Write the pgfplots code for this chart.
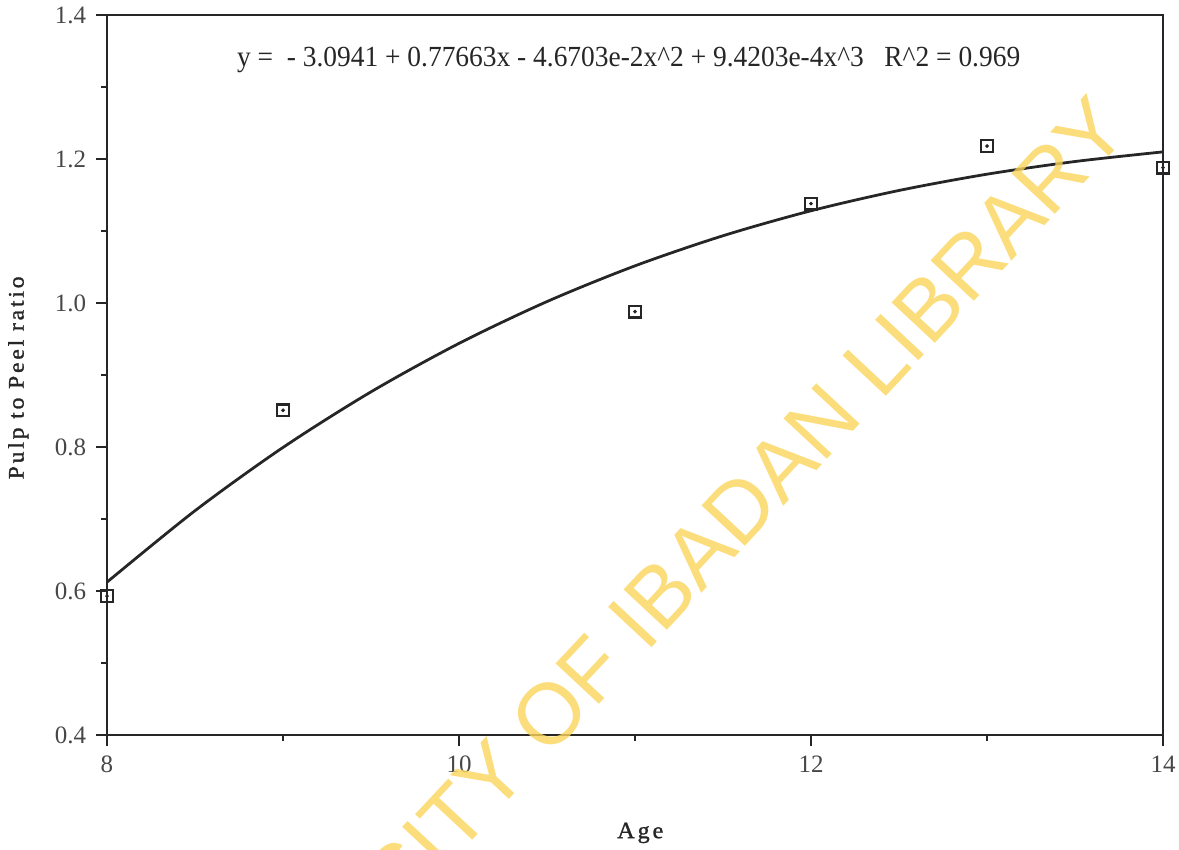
\documentclass[border=0pt]{standalone}
\usepackage{pgfplots}
\pgfplotsset{compat=1.18}
\usepackage{fontspec}
\setmainfont{Liberation Serif}
\newfontfamily\wmfont{Liberation Sans}
\newfontfamily\labfont{Liberation Serif}[LetterSpace=12, FakeBold=1.2]
\usepackage{graphicx}
\definecolor{ink}{RGB}{38,38,38}
\definecolor{wm}{RGB}{250,212,90}

\begin{document}
\begin{tikzpicture}[x=1pt,y=1pt]
\useasboundingbox (0,0) rectangle (424.44,305.64);
\begin{axis}[
  at={(38.52pt,41.04pt)}, anchor=south west,
  scale only axis, width=380.16pt, height=259.2pt,
  xmin=8, xmax=14, ymin=0.4, ymax=1.4,
  xtick={8,10,12,14}, xticklabels={8,10,12,14},
  ytick={0.4,0.6,0.8,1.0,1.2,1.4}, yticklabels={0.4,0.6,0.8,1.0,1.2,1.4},
  minor tick num=1,
  tick pos=left,
  tick align=outside,
  major tick length=4pt, minor tick length=2.2pt,
  axis line style={ink, line width=0.9pt},
  every tick/.style={ink, line width=0.8pt},
  /pgf/number format/assume math mode=true,
  ticklabel style={font=\fontsize{9}{10}\selectfont, text=ink!85},
  xlabel={\resizebox{16.6pt}{\height}{\labfont\fontsize{8.4}{9}\selectfont Age}},
  ylabel={\resizebox{73pt}{\height}{\labfont\fontsize{8}{9}\selectfont Pulp to Peel ratio}},
  xlabel style={at={(axis description cs:0.505,-0.136)}, anchor=center, text=ink},
  ylabel style={at={(axis description cs:-0.084,0.496)}, anchor=center, text=ink},
  clip=false,
]
\addplot[ink, line width=1pt, smooth] coordinates {
  (8,0.6123) (8.5,0.7115) (9,0.7994) (9.5,0.8766) (10,0.9439)
  (10.5,1.0020) (11,1.0516) (11.5,1.0934) (12,1.1281) (12.5,1.1563)
  (13,1.1789) (13.5,1.1965) (14,1.2099)
};
\addplot[only marks, mark=square, mark size=2.1pt, mark options={ink, line width=0.8pt, fill=white}] coordinates {
  (8,0.593) (9,0.851) (11,0.988) (12,1.138) (13,1.218) (14,1.188)
};
\addplot[only marks, mark=*, mark size=0.45pt, mark options={ink}] coordinates {
  (8,0.593) (9,0.851) (11,0.988) (12,1.138) (13,1.218) (14,1.188)
};
\node[text=ink, inner sep=0] at (axis description cs:0.494,0.9375)
  {\resizebox{281.9pt}{\height}{\fontsize{10.5}{12}\selectfont y =\ \ - 3.0941 + 0.77663x - 4.6703e-2x\^{}2 + 9.4203e-4x\^{}3\ \ \ R\^{}2 = 0.969}};
\end{axis}
\node[rotate=47, text=wm, opacity=0.8, inner sep=0, font=\wmfont\fontsize{31}{31}\selectfont] at (228.2,81.4) {UNIVERSITY OF IBADAN LIBRARY};
\end{tikzpicture}
\end{document}
